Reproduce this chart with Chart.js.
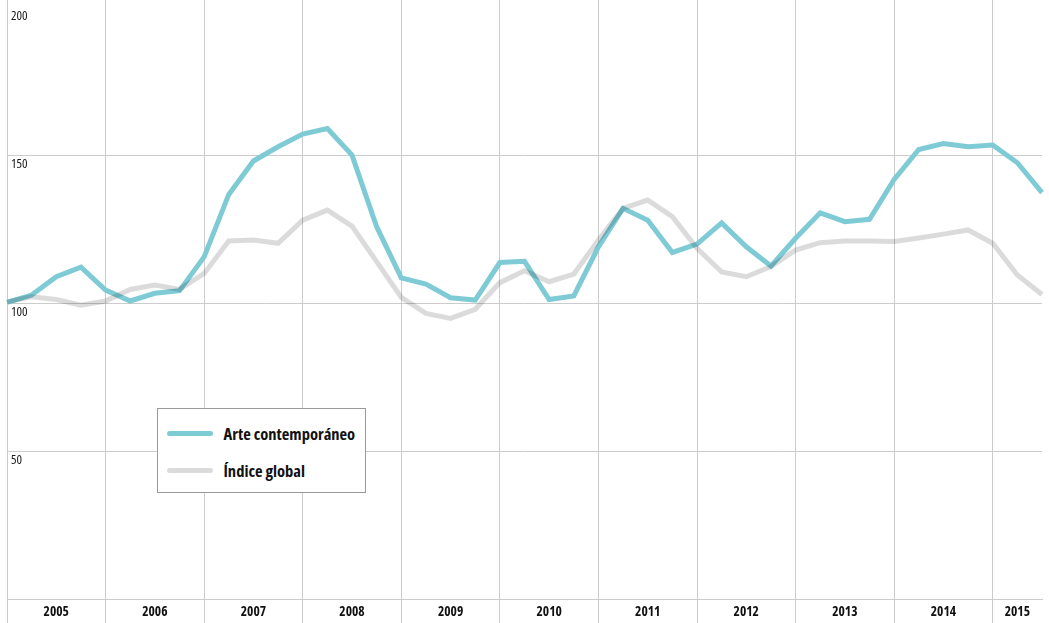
<!DOCTYPE html>
<html><head><meta charset="utf-8">
<script src="https://cdn.jsdelivr.net/npm/chart.js@4/dist/chart.umd.min.js"></script>
<style>
html,body{margin:0;padding:0;background:#fff;}
#wrap{position:relative;width:1049px;height:623px;}
#legend{position:absolute;left:157px;top:408px;width:207px;height:83px;background:#fff;border:1.5px solid #9a9a9a;
  font-family:"Open Sans",sans-serif;font-stretch:condensed;font-weight:bold;font-size:16.5px;color:#111;}
.item{position:absolute;left:8.5px;height:20px;display:flex;align-items:center;white-space:nowrap;}
.swatch{width:46px;height:5px;border-radius:3px;margin-right:11px;}
</style></head>
<body><div id="wrap"><canvas id="c"></canvas><div id="legend"></div></div>
<script>
const years = ['2005','2006','2007','2008','2009','2010','2011','2012','2013','2014','2015'];
const quarters = ['T1','T2','T3','T4'];
const arteContemporaneo = [100.2,102.7,108.9,112.1,104.4,100.7,103.3,104.2,115.6,136.7,148,152.8,157.1,159,150,125.8,108.5,106.4,101.8,101,113.7,114.1,101.2,102.4,119,132,128,117.1,119.9,127.1,119,112.5,121.9,130.5,127.5,128.3,141.8,151.9,153.9,152.8,153.4,147.4,137.3];
const indiceGlobal = [100.4,102.1,101.2,99.3,100.7,104.6,106.1,104.6,110,121,121.3,120.2,128,131.4,126,114,101.9,96.5,94.8,97.9,106.9,110.9,107.2,109.8,121.3,132,134.8,129.2,118.5,110.5,108.9,112.3,117.9,120.4,121,121,120.8,122,123.3,124.7,120.2,109.5,102.9];
const yTicks = [0,50,100,150,200];
const yMax = 202.4;
const seriesNames = ['Arte contemporáneo','Índice global'];

const categories = [];
for (const y of years) for (const q of quarters) if (categories.length < arteContemporaneo.length) categories.push(y + ' ' + q);

const yearLabelAt = {};
years.forEach(y => {
  const first = categories.indexOf(y + ' T1');
  const nextFirst = categories.indexOf((+y + 1) + ' T1');
  const last = nextFirst >= 0 ? nextFirst : categories.length - 1;
  yearLabelAt[Math.round((first + last) / 2)] = y;
});

const FONT = '"Open Sans",sans-serif';
Chart.defaults.font.family = FONT;
Chart.defaults.color = '#1a1a1a';
const GRID = '#cccccc';
const CLEAR = 'rgba(0,0,0,0)';

const chart = new Chart(document.getElementById('c'), {
  type: 'line',
  data: {
    labels: categories,
    datasets: [
      { label: seriesNames[0], data: arteContemporaneo, borderColor: 'rgb(126,203,214)', borderWidth: 5, order: 1 },
      { label: seriesNames[1], data: indiceGlobal, borderColor: 'rgba(0,0,0,0.14)', borderWidth: 5, order: 0 }
    ]
  },
  options: {
    responsive: true,
    maintainAspectRatio: false,
    animation: false,
    layout: { padding: { top: 0, right: 7, bottom: 0, left: 0 } },
    elements: {
      point: { radius: 0, hoverRadius: 0 },
      line: { tension: 0, borderJoinStyle: 'miter', borderCapStyle: 'butt', fill: false }
    },
    plugins: { legend: { display: false }, tooltip: { enabled: false } },
    scales: {
      x: {
        type: 'category',
        offset: false,
        border: { display: true, color: GRID, width: 1 },
        grid: {
          offset: false,
          color: ctx => (categories[ctx.index] || '').endsWith('T1') ? GRID : CLEAR,
          lineWidth: 1,
          drawTicks: true,
          tickLength: 24
        },
        ticks: {
          autoSkip: false,
          maxRotation: 0,
          minRotation: 0,
          padding: -19,
          font: { size: 13.5, weight: 'bold condensed' },
          color: '#111',
          callback: (v, i) => yearLabelAt[i] || ''
        },
        afterFit: s => { s.height = 24; s.paddingLeft = 0; s.paddingRight = 0; }
      },
      y: {
        min: 0,
        max: yMax,
        afterBuildTicks: s => { s.ticks = yTicks.map(v => ({ value: v })); },
        border: { display: false },
        grid: {
          color: ctx => (ctx.tick && (ctx.tick.value === 200 || ctx.tick.value === 0)) ? CLEAR : GRID,
          lineWidth: 1,
          drawTicks: false
        },
        ticks: {
          mirror: true,
          padding: 4,
          labelOffset: 9,
          font: { size: 13, weight: '400 condensed' },
          color: '#1a1a1a',
          callback: v => v === 0 ? '' : String(v)
        },
        afterFit: s => { s.width = 7; s.paddingTop = 0; s.paddingBottom = 0; }
      }
    }
  }
});

const legend = document.getElementById('legend');
chart.data.datasets.forEach((ds, i) => {
  const item = document.createElement('div');
  item.className = 'item';
  item.style.top = (14.5 + i * 37) + 'px';
  const sw = document.createElement('span');
  sw.className = 'swatch';
  sw.style.background = ds.borderColor;
  const tx = document.createElement('span');
  tx.textContent = ds.label;
  item.appendChild(sw); item.appendChild(tx);
  legend.appendChild(item);
});
</script>
</body></html>
